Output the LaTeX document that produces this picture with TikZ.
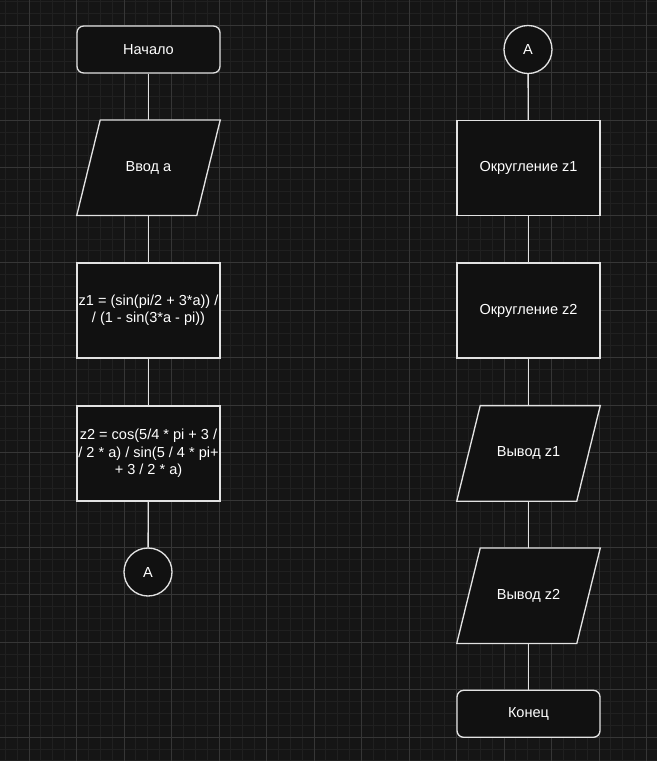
\documentclass[tikz,border=0pt]{standalone}
\usepackage{fontspec}
\setmainfont{Liberation Sans}
\usetikzlibrary{calc}
\definecolor{bgc}{HTML}{151515}
\definecolor{minorc}{HTML}{202020}
\definecolor{majorc}{HTML}{363636}
\definecolor{fillc}{HTML}{111111}
\definecolor{strokec}{HTML}{E2E2E2}
\pgfdeclarelayer{gridlayer}
\pgfdeclarelayer{shapelayer}
\pgfsetlayers{gridlayer,shapelayer,main}
\tikzset{
  base/.style={text=white, font=\fontsize{10.9pt}{12.9pt}\selectfont, align=center, inner sep=0pt},
  term/.style={base, draw=strokec, fill=fillc, line width=1pt, rounded corners=5pt, minimum width=107.25pt, minimum height=35.25pt},
  proc/.style={base, draw=strokec, fill=fillc, line width=1pt, minimum width=107.25pt, minimum height=71.25pt},
  io/.style={base, minimum width=107.25pt, minimum height=71.25pt},
  conn/.style={base, circle, draw=strokec, fill=fillc, line width=1pt, minimum size=36pt},
  link/.style={draw=strokec, line width=1pt},
  para/.style={draw=strokec, fill=fillc, line width=1pt}
}
\newcommand{\mypara}[1]{%
  \begin{pgfonlayer}{shapelayer}
  \path[para] ($(#1.north west)+(23.5,0)$) -- (#1.north east) -- ($(#1.south east)+(-23.5,0)$) -- (#1.south west) -- cycle;
  \end{pgfonlayer}}
\begin{document}
\begin{tikzpicture}[x=0.75pt,y=-0.75pt]
\useasboundingbox (0,0) rectangle (657,761);
\begin{pgfonlayer}{gridlayer}
\fill[bgc] (0,0) rectangle (657,761);
\foreach \i in {-4,...,60} {
  \draw[minorc, line width=0.75pt] ({29+\i*11.875},0) -- ({29+\i*11.875},761);
}
\foreach \i in {-4,...,68} {
  \draw[minorc, line width=0.75pt] (0,{25.5+\i*11.8625}) -- (657,{25.5+\i*11.8625});
}
\foreach \i in {-1,...,14} {
  \draw[majorc, line width=0.75pt] ({29+\i*47.5},0) -- ({29+\i*47.5},761);
}
\foreach \i in {-1,...,16} {
  \draw[majorc, line width=0.75pt] (0,{25.5+\i*47.45}) -- (657,{25.5+\i*47.45});
}
\end{pgfonlayer}

% left column
\node[term] (start) at (148.5,49.5) {Начало};
\node[io] (in) at (148.5,167.7) {Ввод a};
\mypara{in}
\node[proc] (z1) at (148.5,310.6) {z1 = (sin(pi/2 + 3*a)) /\\/ (1 - sin(3*a - pi))};
\node[proc] (z2) at (148.5,453.4) {z2 = cos(5/4 * pi + 3 /\\/ 2 * a) / sin(5 / 4 * pi+\\+ 3 / 2 * a)};
\node[conn] (ca1) at (148,572) {A};

% right column
\node[conn] (ca2) at (528,49.5) {A};
\node[proc] (r1) at (528.5,168) {Округление z1};
\node[proc] (r2) at (528.5,310.6) {Округление z2};
\node[io] (o1) at (528.5,453.4) {Вывод z1};
\mypara{o1}
\node[io] (o2) at (528.5,595.8) {Вывод z2};
\mypara{o2}
\node[term] (end) at (528.5,713.8) {Конец};

\begin{pgfonlayer}{shapelayer}
\draw[link] (start) -- (in);
\draw[link] (in) -- (z1);
\draw[link] (z1) -- (z2);
\draw[link] (z2) -- (ca1);
\draw[link] (ca2) -- (r1);
\draw[link] (r1) -- (r2);
\draw[link] (r2) -- (o1);
\draw[link] (o1) -- (o2);
\draw[link] (o2) -- (end);
\end{pgfonlayer}
\end{tikzpicture}
\end{document}
